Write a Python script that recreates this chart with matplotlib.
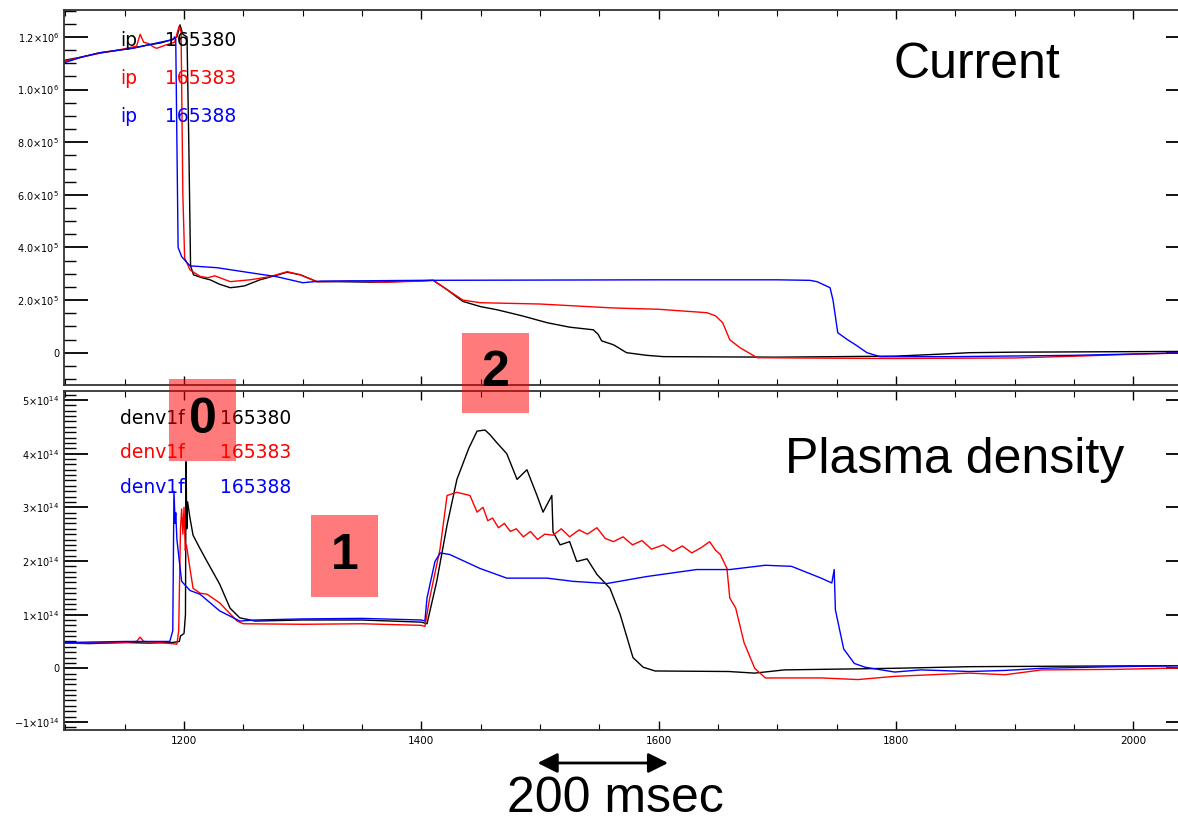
import matplotlib
matplotlib.use("Agg")
import matplotlib.pyplot as plt
import matplotlib.transforms as mtransforms
from matplotlib.patches import Rectangle, ArrowStyle
from matplotlib.ticker import FixedLocator, MultipleLocator

W, H = 1178, 822

shots = ["165380", "165383", "165388"]
colors = ["black", "red", "blue"]

# plasma current (units of 1e6 A) vs time (ms)
ip_scale = 1e6
t_ip_380 = [1098.5, 1101, 1115, 1129, 1145, 1157, 1170, 1180, 1190, 1194, 1196.6, 1199,
            1202.5, 1204, 1205.5, 1208, 1215, 1222, 1230, 1239, 1245, 1251, 1264, 1276,
            1287, 1298, 1312, 1330, 1360, 1390, 1410, 1420, 1435, 1450, 1464, 1485, 1506,
            1525, 1545, 1549, 1552, 1562, 1573, 1590, 1604, 1650, 1700, 1750, 1800, 1840,
            1862, 1900, 1950, 2000, 2048]
ip_380 = [1.11, 1.113, 1.125, 1.14, 1.15, 1.158, 1.17, 1.177, 1.19, 1.20, 1.246, 1.21,
          1.20, 0.8, 0.33, 0.296, 0.285, 0.277, 0.26, 0.247, 0.25, 0.254, 0.277, 0.292,
          0.306, 0.296, 0.27, 0.27, 0.268, 0.272, 0.275, 0.245, 0.195, 0.175, 0.163, 0.14,
          0.114, 0.097, 0.087, 0.07, 0.045, 0.03, 0.0, -0.01, -0.015, -0.016, -0.017,
          -0.015, -0.013, -0.005, 0.0, 0.002, 0.003, 0.004, 0.005]

t_ip_383 = [1098.5, 1101, 1115, 1129, 1150, 1160, 1163, 1166, 1170, 1175, 1177, 1185, 1192,
            1195.8, 1197.5, 1199, 1200.5, 1205, 1213.5, 1220, 1226, 1239, 1255.6, 1272.5,
            1287, 1298, 1312, 1340, 1370, 1400, 1410, 1420, 1435, 1449.5, 1500, 1561.6,
            1600, 1640.8, 1648, 1654, 1660, 1668.6, 1683, 1750, 1800, 1900, 1960, 2000, 2048]
ip_383 = [1.105, 1.11, 1.125, 1.138, 1.155, 1.165, 1.21, 1.18, 1.175, 1.16, 1.157, 1.17,
          1.18, 1.24, 1.22, 0.6, 0.36, 0.315, 0.29, 0.285, 0.292, 0.27, 0.277, 0.289,
          0.308, 0.296, 0.27, 0.272, 0.268, 0.272, 0.275, 0.245, 0.20, 0.19, 0.185, 0.17,
          0.165, 0.152, 0.14, 0.114, 0.049, 0.019, -0.019, -0.021, -0.022, -0.02, -0.012,
          -0.006, 0.0]

t_ip_388 = [1098.5, 1101, 1115, 1129, 1157, 1180, 1190.7, 1192, 1193, 1195, 1198, 1205,
            1227.8, 1255.6, 1278, 1300, 1315, 1400, 1500, 1600, 1700, 1727.6, 1733.5,
            1744.5, 1747, 1751, 1759, 1766, 1775.6, 1786.6, 1850, 1950, 2048]
ip_388 = [1.10, 1.105, 1.125, 1.14, 1.157, 1.18, 1.19, 1.20, 1.19, 0.4, 0.365, 0.33,
          0.323, 0.304, 0.289, 0.266, 0.272, 0.275, 0.276, 0.277, 0.277, 0.275, 0.27,
          0.247, 0.2, 0.076, 0.05, 0.03, 0.0, -0.015, -0.015, -0.01, 0.0]

# line-averaged density (units of 1e14) vs time (ms)
ne_scale = 1e14
t_ne_380 = [1098.5, 1120, 1150, 1170, 1190, 1196, 1197, 1200, 1201.2, 1201.7, 1202.3, 1203,
            1205, 1207.6, 1213, 1219.4, 1230, 1238.8, 1247, 1260, 1300, 1350, 1400, 1404.8,
            1413, 1421.7, 1430, 1440, 1447, 1453.7, 1458, 1463.8, 1472, 1480.7, 1489,
            1497.5, 1502.6, 1510, 1511, 1517, 1525, 1531, 1539.7, 1548, 1559, 1567.5,
            1578.4, 1587, 1597, 1659, 1681, 1706, 1799, 1862, 1950, 2048]
ne_380 = [0.47, 0.46, 0.48, 0.47, 0.48, 0.5, 0.6, 0.65, 1.0, 3.85, 2.6, 3.1, 2.8, 2.48,
          2.25, 1.99, 1.57, 1.12, 0.94, 0.88, 0.9, 0.9, 0.86, 0.83, 1.62, 2.67, 3.52, 4.1,
          4.42, 4.44, 4.35, 4.2, 4.0, 3.52, 3.7, 3.22, 2.91, 3.22, 2.54, 2.3, 2.36, 1.99,
          2.04, 1.75, 1.49, 1.01, 0.2, 0.02, -0.05, -0.06, -0.09, -0.03, 0.0, 0.03, 0.04,
          0.05]

t_ne_383 = [1098.5, 1150, 1160, 1163, 1166, 1180, 1194, 1195.5, 1197, 1198, 1199, 1200,
            1201, 1202, 1205, 1207.6, 1213.5, 1219.4, 1230, 1244.7, 1250, 1300, 1350, 1400,
            1403, 1407, 1415.8, 1421.7, 1430, 1441, 1447, 1452, 1456, 1460, 1465, 1470,
            1475, 1480, 1486, 1492, 1498, 1504, 1511, 1518, 1525, 1533, 1540, 1548, 1555,
            1562, 1570, 1578, 1586, 1594, 1604, 1612, 1620, 1628, 1636, 1643, 1648, 1652,
            1657.6, 1660, 1665, 1672, 1681, 1690, 1737, 1768, 1799, 1862, 1892, 1923,
            1985, 2048]
ne_383 = [0.47, 0.48, 0.5, 0.58, 0.5, 0.48, 0.45, 0.7, 2.6, 2.97, 2.5, 3.0, 2.2, 2.3,
          1.86, 1.49, 1.4, 1.38, 1.22, 0.88, 0.83, 0.82, 0.83, 0.8, 0.78, 1.3, 2.23, 3.22,
          3.28, 3.22, 2.91, 3.0, 2.75, 2.8, 2.62, 2.7, 2.55, 2.6, 2.45, 2.55, 2.4, 2.5,
          2.48, 2.6, 2.45, 2.58, 2.5, 2.62, 2.42, 2.36, 2.45, 2.3, 2.38, 2.22, 2.3, 2.18,
          2.28, 2.15, 2.25, 2.36, 2.2, 2.12, 1.86, 1.31, 1.12, 0.48, 0.0, -0.18, -0.18,
          -0.21, -0.15, -0.09, -0.12, -0.03, -0.02, 0.01]

t_ne_388 = [1098.5, 1150, 1188, 1190.5, 1191.5, 1192.5, 1193, 1194, 1196, 1198, 1205,
            1213.5, 1230, 1247, 1260, 1300, 1350, 1400, 1403, 1404.8, 1411.5, 1416, 1424,
            1449.5, 1472, 1506, 1528, 1556.5, 1590, 1632, 1660, 1690, 1712, 1737, 1746,
            1748, 1749, 1756, 1765, 1774, 1799, 1821, 1862, 1892, 1923, 1985, 2048]
ne_388 = [0.48, 0.5, 0.5, 0.7, 3.3, 2.7, 2.9, 2.4, 2.0, 1.62, 1.45, 1.38, 1.07, 0.88, 0.9,
          0.92, 0.93, 0.9, 0.88, 1.31, 1.99, 2.15, 2.12, 1.86, 1.68, 1.68, 1.62, 1.58,
          1.71, 1.84, 1.84, 1.92, 1.9, 1.68, 1.59, 1.84, 1.09, 0.36, 0.09, 0.02, -0.07,
          -0.03, -0.06, -0.04, 0.0, 0.03, 0.05]

ip_ticks = [0, 2e5, 4e5, 6e5, 8e5, 1e6, 1.2e6]
ip_ticklabels = ["0", r"$2.0{\times}10^{5}$", r"$4.0{\times}10^{5}$", r"$6.0{\times}10^{5}$",
                 r"$8.0{\times}10^{5}$", r"$1.0{\times}10^{6}$", r"$1.2{\times}10^{6}$"]
ne_ticks = [-1e14, 0, 1e14, 2e14, 3e14, 4e14, 5e14]
ne_ticklabels = [r"$-1{\times}10^{14}$", "0", r"$1{\times}10^{14}$", r"$2{\times}10^{14}$",
                 r"$3{\times}10^{14}$", r"$4{\times}10^{14}$", r"$5{\times}10^{14}$"]
time_ticks = [1200, 1400, 1600, 1800, 2000]

ip_series = [(t_ip_380, ip_380), (t_ip_383, ip_383), (t_ip_388, ip_388)]
ne_series = [(t_ne_380, ne_380), (t_ne_383, ne_383), (t_ne_388, ne_388)]


def fig_xy(x, y):
    return x / W, 1 - y / H


def style_axis(ax, yticks, ylabels, yminor, show_x):
    ax.set_xlim(1098.4, 2047.9)
    ax.xaxis.set_major_locator(FixedLocator(time_ticks))
    ax.xaxis.set_minor_locator(MultipleLocator(50))
    ax.yaxis.set_major_locator(FixedLocator(yticks))
    ax.set_yticklabels(ylabels)
    ax.yaxis.set_minor_locator(MultipleLocator(yminor))
    ax.tick_params(which="both", direction="in", top=True, right=True, color="black",
                   labelsize=7)
    ax.tick_params(axis="y", which="major", length=17.3, width=1.3, pad=3)
    ax.tick_params(axis="y", which="minor", length=8.6, width=1.0)
    ax.tick_params(axis="x", which="major", length=6.5, width=1.0, pad=4.3, labelsize=7.5)
    ax.tick_params(axis="x", which="minor", length=4, width=0.8)
    if not show_x:
        ax.set_xticklabels([])
    for sp in ax.spines.values():
        sp.set_linewidth(1.3)
        sp.set_color("#333333")


fig = plt.figure(figsize=(W / 100, H / 100), dpi=100)
ax1 = fig.add_axes([63.5 / W, 1 - 385.5 / H, (1190 - 63.5) / W, (385.5 - 10) / H])
ax2 = fig.add_axes([63.5 / W, 1 - 730 / H, (1190 - 63.5) / W, (730 - 390.7) / H])

for (t, v), c in zip(ip_series, colors):
    ax1.plot(t, [x * ip_scale for x in v], color=c, lw=1.0)
for (t, v), c in zip(ne_series, colors):
    ax2.plot(t, [x * ne_scale for x in v], color=c, lw=1.0)

ax1.set_ylim(-0.1247 * ip_scale, 1.3025 * ip_scale)
ax2.set_ylim(-1.15 * ne_scale, 5.173 * ne_scale)
style_axis(ax1, ip_ticks, ip_ticklabels, 0.05e6, False)
style_axis(ax2, ne_ticks, ne_ticklabels, 0.1e14, True)

# signal names
for i, (shot, c) in enumerate(zip(shots, colors)):
    y_ip = [40.7, 78.3, 116.7][i]
    y_ne = [418, 452, 487][i]
    fig.text(*fig_xy(120, y_ip), "ip", color=c, fontsize=13.5, va="center", ha="left")
    fig.text(*fig_xy(165, y_ip), shot, color=c, fontsize=13.5, va="center", ha="left")
    fig.text(*fig_xy(120, y_ne), "denv1f", color=c, fontsize=13.5, va="center", ha="left")
    fig.text(*fig_xy(220, y_ne), shot, color=c, fontsize=13.5, va="center", ha="left")

big = dict(fontsize=36, family=["Liberation Sans", "DejaVu Sans"], color="black")
fig.text(*fig_xy(893, 78), "Current", ha="left", va="baseline", **big)
fig.text(*fig_xy(785, 473), "Plasma density", ha="left", va="baseline", **big)
fig.text(*fig_xy(507, 812), "200 msec", ha="left", va="baseline", **big)

# phase markers
phases = ["0", "1", "2"]
boxes = [(169, 379, 236, 461), (311, 515, 378, 597), (462, 333, 529, 413)]
for label, (x0, y0, x1, y1) in zip(phases, boxes):
    rect = Rectangle(fig_xy(x0, y1), (x1 - x0) / W, (y1 - y0) / H,
                     transform=fig.transFigure, facecolor=(1, 0, 0), alpha=0.52,
                     edgecolor="none", zorder=5)
    fig.add_artist(rect)
    fig.text(*fig_xy((x0 + x1) / 2, (y0 + y1) / 2), label, ha="center", va="center",
             fontsize=36, fontweight="bold", family=["Liberation Sans", "DejaVu Sans"],
             color="black", zorder=6)

# 200 msec scale arrow
trans = mtransforms.blended_transform_factory(ax2.transData, fig.transFigure)
arrow_y = 1 - 763 / H
ax2.annotate("", xy=(1608, arrow_y), xytext=(1498, arrow_y), xycoords=trans,
             textcoords=trans, annotation_clip=False,
             arrowprops=dict(arrowstyle=ArrowStyle("<|-|>", head_length=0.6, head_width=0.3),
                             mutation_scale=20, color="black", lw=2,
                             shrinkA=0, shrinkB=0))

fig.savefig("out.png", dpi=100)
